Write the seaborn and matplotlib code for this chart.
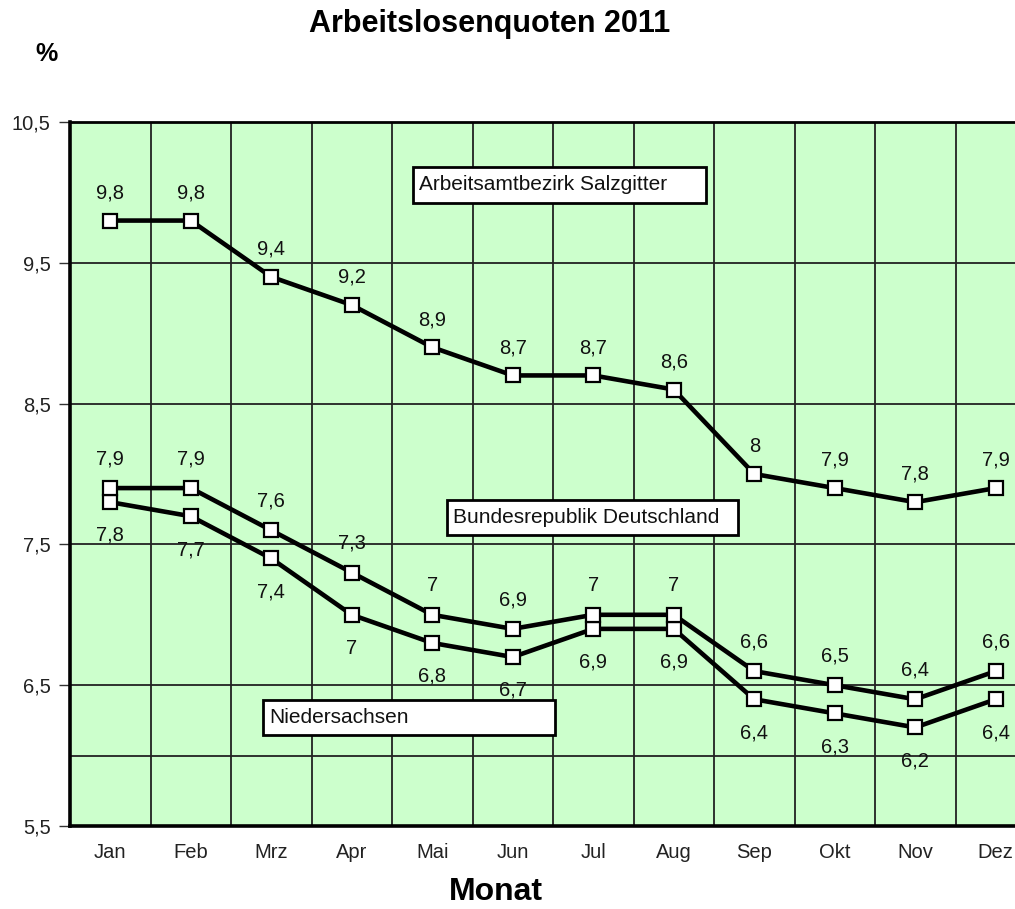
import matplotlib
matplotlib.use("Agg")
import matplotlib.pyplot as plt
from matplotlib.patches import Rectangle
from matplotlib.ticker import FixedLocator, FuncFormatter
import seaborn as sns
import pandas as pd

# Monthly unemployment rates 2011 (%)
months = ["Jan", "Feb", "Mrz", "Apr", "Mai", "Jun", "Jul", "Aug", "Sep", "Okt", "Nov", "Dez"]
salzgitter = [9.8, 9.8, 9.4, 9.2, 8.9, 8.7, 8.7, 8.6, 8.0, 7.9, 7.8, 7.9]
bund = [7.9, 7.9, 7.6, 7.3, 7.0, 6.9, 7.0, 7.0, 6.6, 6.5, 6.4, 6.6]
niedersachsen = [7.8, 7.7, 7.4, 7.0, 6.8, 6.7, 6.9, 6.9, 6.4, 6.3, 6.2, 6.4]
y_ticks = [5.5, 6.5, 7.5, 8.5, 9.5, 10.5]

sns.set_theme(style="white")
plt.rcParams["font.family"] = ["Liberation Sans", "DejaVu Sans"]

W, H = 1015, 909
fig = plt.figure(figsize=(W / 100, H / 100), dpi=100)
ax_l, ax_r, ax_t, ax_b = 70, 70 + 12 * 80.5, 122, 826
ax = fig.add_axes([ax_l / W, (H - ax_b) / H, (ax_r - ax_l) / W, (ax_b - ax_t) / H])
ax.set_facecolor("#CCFFCC")

df = pd.DataFrame({"Monat": months * 3,
                   "Quote": salzgitter + bund + niedersachsen,
                   "Reihe": ["Salzgitter"] * 12 + ["Bund"] * 12 + ["Niedersachsen"] * 12})

for name in ["Niedersachsen", "Bund", "Salzgitter"]:
    sub = df[df["Reihe"] == name]
    sns.lineplot(data=sub, x="Monat", y="Quote", ax=ax, color="black", lw=3.3,
                 marker="s", markersize=9.5, markerfacecolor="white",
                 markeredgecolor="black", markeredgewidth=1.6, sort=False, zorder=4)

def fmt(v):
    s = f"{v:.1f}".replace(".", ",")
    return s[:-2] if s.endswith(",0") else s

for series, dy in [(salzgitter, 20), (bund, 21), (niedersachsen, -24)]:
    for i, v in enumerate(series):
        ax.annotate(fmt(v), (i, v), xytext=(0, dy), textcoords="offset points",
                    ha="center", va="center", fontsize=14.5, color="#111111", zorder=5)

ax.set_xlim(-0.5, 11.5)
ax.set_ylim(5.5, 10.5)
ax.yaxis.set_major_locator(FixedLocator(y_ticks))
ax.yaxis.set_minor_locator(FixedLocator([6.0]))
ax.yaxis.set_major_formatter(FuncFormatter(lambda v, p: f"{v:.1f}".replace(".", ",")))
ax.xaxis.set_minor_locator(FixedLocator([k - 0.5 for k in range(13)]))
ax.grid(True, which="major", axis="y", color="#222222", lw=1.3)
ax.grid(True, which="minor", axis="y", color="#222222", lw=1.3)
ax.grid(True, which="minor", axis="x", color="#222222", lw=1.3)
ax.grid(False, which="major", axis="x")
ax.tick_params(axis="y", which="major", left=True, length=8, width=1, color="#333333",
               labelsize=14.5, pad=6, labelcolor="#222222")
ax.tick_params(axis="y", which="minor", length=0)
ax.tick_params(axis="x", which="both", length=0, labelsize=14.5, pad=12, labelcolor="#222222")
ax.set_xlabel("")
ax.set_ylabel("")
for s in ["left", "bottom"]:
    ax.spines[s].set_linewidth(2.6)
    ax.spines[s].set_color("black")
ax.spines["top"].set_linewidth(2.0)
ax.spines["top"].set_color("black")
ax.spines["right"].set_visible(False)

# Series name boxes
def px2ax(px, py):
    return (px - ax_l) / (ax_r - ax_l), (ax_b - py) / (ax_b - ax_t)

boxes = [("Arbeitsamtbezirk Salzgitter", 413, 167, 706, 203),
         ("Bundesrepublik Deutschland", 447, 500, 738, 535),
         ("Niedersachsen", 263, 700, 555, 735)]
for txt, x0, y0, x1, y1 in boxes:
    ax0, ay1 = px2ax(x0, y0)
    ax1, ay0 = px2ax(x1, y1)
    ax.add_patch(Rectangle((ax0, ay0), ax1 - ax0, ay1 - ay0, transform=ax.transAxes,
                           facecolor="white", edgecolor="black", lw=2.0, zorder=6))
    tx, ty = px2ax(x0 + 6, (y0 + y1) / 2)
    ax.text(tx, ty, txt, transform=ax.transAxes, ha="left", va="center",
            fontsize=15, color="#111111", zorder=7)

fig.text(490 / W, 1 - 24 / H, "Arbeitslosenquoten 2011", ha="center", va="center",
         fontsize=22, fontweight="bold", color="black")
fig.text(47 / W, 1 - 54 / H, "%", ha="center", va="center",
         fontsize=18, fontweight="bold", color="black")
fig.text(496 / W, 1 - 892 / H, "Monat", ha="center", va="center",
         fontsize=23, fontweight="bold", color="black")

fig.savefig("out.png", dpi=100, facecolor="white")
